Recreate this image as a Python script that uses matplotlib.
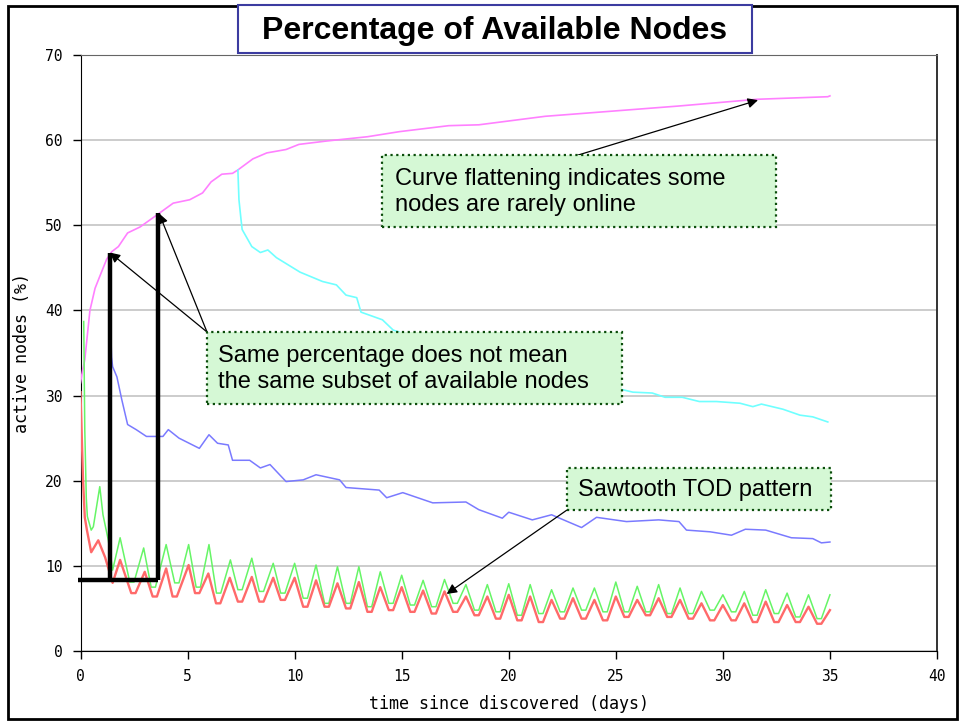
import numpy as np
import matplotlib
matplotlib.use('Agg')
import matplotlib.pyplot as plt
from matplotlib.patches import Rectangle

W, H = 959, 723

# curva acumulada (magenta)
mag_t = [0.0, 0.1, 0.2, 0.44, 0.68, 0.9, 1.22, 1.46, 1.77, 2.2, 2.78, 3.56, 4.33, 5.1, 5.7, 6.1,
         6.6, 7.1, 7.35, 8.05, 8.7, 9.6, 10.2, 11.5, 13.4, 14.9, 17.2, 18.6, 21.7, 24.8, 27.9,
         31.6, 34.9, 35.0]
mag_v = [31.5, 33.0, 34.2, 40.0, 42.6, 44.0, 46.0, 46.9, 47.5, 49.1, 49.8, 51.2, 52.6, 53.0, 53.8, 55.1,
         56.0, 56.1, 56.5, 57.8, 58.5, 58.9, 59.5, 59.9, 60.4, 61.0, 61.7, 61.8, 62.8, 63.4, 64.0,
         64.8, 65.1, 65.2]

# ciano
cyan_t = [7.35, 7.4, 7.5, 7.55, 8.0, 8.4, 8.75, 9.15, 10.25, 11.3, 11.95, 12.4, 12.9, 13.1, 14.1,
          14.6, 17.0, 20.0, 23.0, 25.3, 25.8, 26.7, 27.3, 28.1, 28.9, 29.7, 30.8, 31.4, 31.8, 32.8,
          33.6, 34.2, 34.9]
cyan_v = [56.5, 53.0, 50.6, 49.5, 47.5, 46.8, 47.1, 46.2, 44.5, 43.4, 43.0, 41.8, 41.5, 39.8, 38.9,
          37.7, 35.5, 33.5, 31.8, 30.7, 30.4, 30.3, 29.8, 29.8, 29.3, 29.3, 29.1, 28.7, 29.0, 28.4,
          27.7, 27.5, 26.9]

# azul
blue_t = [1.35, 1.38, 1.45, 1.5, 1.7, 1.93, 2.2, 2.6, 3.08, 3.85, 4.1, 4.6, 5.55, 6.0, 6.4, 6.9,
          7.1, 7.9, 8.4, 8.85, 9.6, 10.4, 11.0, 12.1, 12.4, 13.95, 14.3, 15.05, 16.45, 18.0, 18.6,
          19.7, 20.0, 21.1, 22.0, 23.4, 24.1, 25.5, 27.0, 27.95, 28.3, 29.4, 30.4, 31.05, 32.0,
          33.2, 34.2, 34.6, 35.0]
blue_v = [46.5, 40.4, 34.5, 33.4, 32.2, 29.5, 26.6, 26.0, 25.2, 25.2, 26.0, 25.0, 23.8, 25.4, 24.4, 24.2,
          22.4, 22.4, 21.5, 21.9, 19.9, 20.1, 20.7, 20.1, 19.2, 18.9, 18.0, 18.6, 17.4, 17.5, 16.6,
          15.6, 16.3, 15.4, 16.0, 14.5, 15.7, 15.2, 15.4, 15.2, 14.2, 14.0, 13.6, 14.3, 14.2,
          13.3, 13.2, 12.7, 12.8]

# verde - inicio ate o dia 11
green_t0 = [0.15, 0.2, 0.27, 0.32, 0.5, 0.6, 0.9, 1.05, 1.3, 1.5, 1.85, 2.3, 2.5, 2.95, 3.3, 3.5,
            4.0, 4.4, 4.6, 5.05, 5.4, 5.6, 6.0, 6.35, 6.55, 7.0, 7.35, 7.55, 8.0, 8.35, 8.55, 9.0,
            9.35, 9.55, 10.0, 10.4, 10.6, 11.0]
green_v0 = [38.7, 26.0, 18.0, 15.8, 14.2, 14.6, 19.3, 16.0, 13.0, 9.5, 13.3, 8.1, 8.1, 12.1, 7.5, 7.5,
            12.5, 8.0, 8.0, 12.5, 7.5, 7.5, 12.5, 6.8, 6.8, 10.7, 7.2, 7.2, 10.9, 7.0, 7.0, 10.3,
            6.8, 6.8, 10.3, 6.2, 6.2, 10.1]
# vermelho - inicio ate o dia 11
red_t0 = [0.0, 0.02, 0.05, 0.12, 0.2, 0.3, 0.5, 0.83, 1.15, 1.5, 1.85, 2.37, 2.57, 3.0, 3.37, 3.57,
          4.0, 4.3, 4.5, 5.05, 5.35, 5.55, 5.97, 6.33, 6.53, 6.97, 7.35, 7.55, 8.0, 8.35, 8.55, 9.0,
          9.35, 9.55, 10.0, 10.4, 10.6, 11.0]
red_v0 = [30.4, 28.5, 26.0, 20.0, 15.7, 14.2, 11.6, 13.0, 11.0, 8.0, 10.7, 6.8, 6.8, 9.3, 6.4, 6.4,
          9.7, 6.4, 6.4, 10.1, 6.8, 6.8, 9.1, 5.6, 5.6, 8.6, 5.8, 5.8, 8.7, 5.8, 5.8, 8.6,
          6.0, 6.0, 8.6, 5.2, 5.2, 8.3]

# padrao diario (TOD): fundo do vale entre d-0.6 e d-0.4, pico em d (12..35)
green_troughs = [5.6, 5.6, 5.2, 5.6, 5.4, 5.2, 5.6, 4.8, 4.6, 4.2, 4.4, 4.6, 4.8, 4.6,
                 4.6, 4.6, 4.4, 4.4, 4.8, 4.6, 4.2, 4.4, 4.0, 3.8]
green_peaks = [9.9, 9.9, 9.3, 8.9, 8.3, 8.4, 7.8, 7.8, 7.9, 7.8, 7.2, 7.4, 7.4, 8.1,
               7.6, 7.8, 7.4, 7.0, 6.6, 7.0, 7.2, 6.8, 6.6, 6.6]
red_troughs = [5.2, 5.0, 4.6, 4.8, 4.6, 4.4, 4.6, 4.2, 3.8, 3.6, 3.4, 3.8, 3.8, 3.6,
               4.0, 4.2, 4.0, 3.8, 3.6, 3.6, 3.4, 3.4, 3.4, 3.2]
red_peaks = [7.95, 8.1, 7.5, 7.5, 7.1, 7.0, 6.4, 6.4, 6.6, 6.4, 6.0, 6.2, 6.0, 6.4,
             6.0, 6.2, 6.0, 5.6, 5.4, 5.6, 5.8, 5.4, 5.2, 4.8]
tod_days = np.arange(12, 36)

# linhas pretas grossas (mesma porcentagem)
level_y = 8.35
mark_days = [1.37, 3.63]
mark_tops = [46.8, 51.4]


def junta(t0, v0, vales, picos):
    t = list(t0)
    v = list(v0)
    for d, lo, hi in zip(tod_days, vales, picos):
        t += [d - 0.6, d - 0.4, d]
        v += [lo, lo, hi]
    return t, v


def px(x, y):
    """converte pixel da imagem para fracao da figura"""
    return (x / W, 1 - y / H)


green_t, green_v = junta(green_t0, green_v0, green_troughs, green_peaks)
red_t, red_v = junta(red_t0, red_v0, red_troughs, red_peaks)

fig = plt.figure(figsize=(W / 100, H / 100), dpi=100)
ax = fig.add_axes([80.5 / W, 72 / H, (937 - 80.5) / W, (651 - 55) / H])

ax.plot(mag_t, mag_v, color='#ff80ff', lw=1.2, zorder=3)
ax.plot(cyan_t, cyan_v, color='#70ffff', lw=1.2, zorder=3)
ax.plot(blue_t, blue_v, color='#7a7aff', lw=1.1, zorder=3)
ax.plot(green_t, green_v, color='#66f566', lw=1.1, zorder=3)
ax.plot(red_t, red_v, color='#ff6a6a', lw=1.7, zorder=3)

# linhas pretas
ax.plot([-0.1, mark_days[1]], [level_y, level_y], color='black', lw=3.2, solid_capstyle='butt', zorder=4, clip_on=False)
for d, top in zip(mark_days, mark_tops):
    ax.plot([d, d], [level_y, top], color='black', lw=3.2, solid_capstyle='butt', zorder=4)

ax.set_xlim(0, 40)
ax.set_ylim(0, 70)
ax.set_xticks(np.arange(0, 41, 5))
ax.set_yticks(np.arange(0, 71, 10))
ax.yaxis.grid(True, color='#c8c8c8', lw=1.3)
ax.set_axisbelow(True)
ax.tick_params(direction='out', length=6, width=1, labelsize=10.5, pad=7)
for lab in ax.get_xticklabels() + ax.get_yticklabels():
    lab.set_family('DejaVu Sans Mono')
ax.spines['top'].set_color('#666666')
ax.spines['right'].set_color('#333333')
ax.spines['right'].set_linewidth(1.4)
ax.set_xlabel('time since discovered (days)', family='DejaVu Sans Mono', fontsize=12, labelpad=8)
ax.set_ylabel('active nodes (%)', family='DejaVu Sans Mono', fontsize=12, labelpad=10)

# setas das anotacoes
seta = dict(arrowstyle='-|>', color='black', lw=0.9, mutation_scale=15, shrinkA=0, shrinkB=0)
ax.annotate('', xy=(31.64, 64.7), xytext=px(575, 156), textcoords='figure fraction', arrowprops=seta, annotation_clip=False)
ax.annotate('', xy=(1.37, 46.8), xytext=px(207, 332), textcoords='figure fraction', arrowprops=seta, annotation_clip=False)
ax.annotate('', xy=(3.67, 51.4), xytext=px(207, 332), textcoords='figure fraction', arrowprops=seta, annotation_clip=False)
ax.annotate('', xy=(17.1, 6.7), xytext=px(567, 510), textcoords='figure fraction', arrowprops=seta, annotation_clip=False)

# caixas verdes
caixas = [
    (382, 155, 776, 227, 395, 'Curve flattening indicates some\nnodes are rarely online'),
    (207, 332, 622, 404, 218, 'Same percentage does not mean\nthe same subset of available nodes'),
    (567, 468, 831, 510, 578, 'Sawtooth TOD pattern'),
]
for x0, y0, x1, y1, xt, txt in caixas:
    r = Rectangle(px(x0, y1), (x1 - x0) / W, (y1 - y0) / H, transform=fig.transFigure,
                  facecolor='#d5f8d5', edgecolor='#0b4d0b', lw=1.6, ls=(0, (1, 1.6)), zorder=10)
    fig.add_artist(r)
    fig.text(*px(xt, (y0 + y1) / 2 + 1), txt, ha='left', va='center', fontsize=17,
             family='Liberation Sans', linespacing=1.2, zorder=11)

# moldura e titulo
fig.add_artist(Rectangle(px(7.5, 719), (957 - 7.5) / W, (719 - 5.5) / H, transform=fig.transFigure,
                         fill=False, edgecolor='black', lw=2, zorder=12))
fig.add_artist(Rectangle(px(238, 53), (752 - 238) / W, (53 - 5) / H, transform=fig.transFigure,
                         facecolor='white', edgecolor='#3c3ca0', lw=1.5, zorder=13))
fig.text(*px(495, 31), 'Percentage of Available Nodes', ha='center', va='center', fontsize=23,
         weight='bold', family='Liberation Sans', zorder=14)

fig.savefig('out.png', dpi=100)
